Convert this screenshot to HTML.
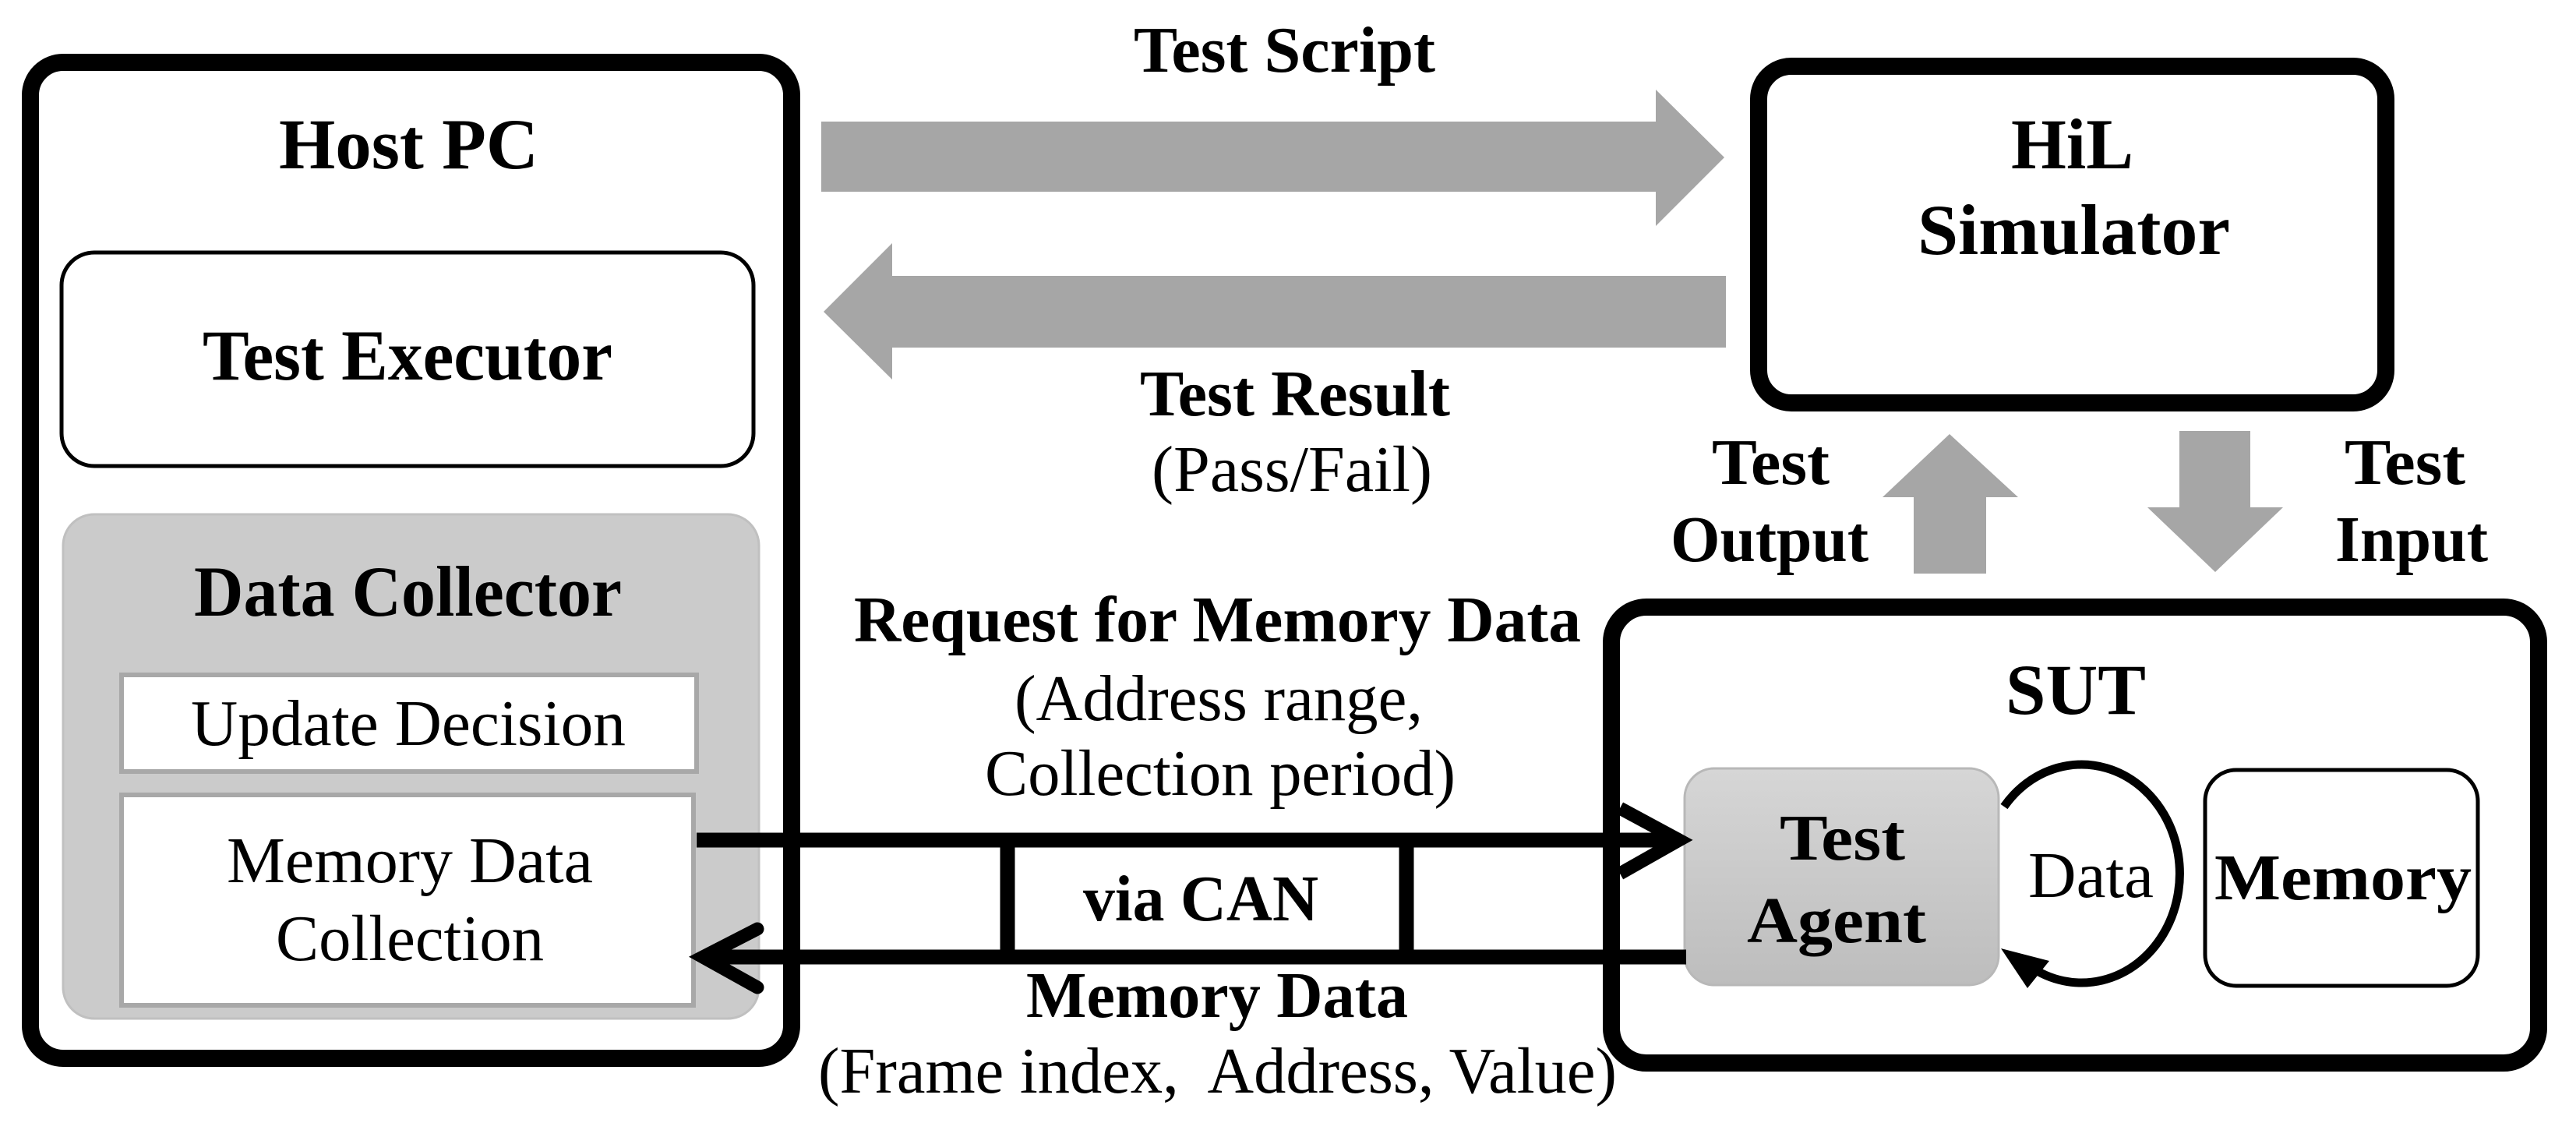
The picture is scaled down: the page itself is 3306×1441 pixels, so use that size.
<!DOCTYPE html>
<html><head><meta charset="utf-8"><style>html,body{margin:0;padding:0;background:#fff}svg{display:block}text{font-family:"Liberation Serif",serif;font-size:84px;fill:#000}.b{font-weight:bold}.t{font-size:92px}</style></head><body>
<svg width="3306" height="1441" viewBox="0 0 3306 1441" xmlns="http://www.w3.org/2000/svg">
<defs><linearGradient id="ga" x1="0" y1="0" x2="0" y2="1"><stop offset="0" stop-color="#d6d6d6"/><stop offset="1" stop-color="#bdbdbd"/></linearGradient></defs>
<rect x="39" y="80" width="977" height="1278" rx="42" fill="#fff" stroke="#000" stroke-width="22"/>
<text class="b t" x="358" y="216" textLength="333" lengthAdjust="spacingAndGlyphs">Host PC</text>
<rect x="79" y="324" width="888" height="274" rx="42" fill="#fff" stroke="#000" stroke-width="5"/>
<text class="b t" x="260" y="487" textLength="526" lengthAdjust="spacingAndGlyphs">Test Executor</text>
<rect x="81" y="660" width="893" height="647" rx="40" fill="#cbcbcb" stroke="#c0c0c0" stroke-width="3"/>
<text class="b t" x="249" y="790" textLength="549" lengthAdjust="spacingAndGlyphs">Data Collector</text>
<rect x="156" y="866" width="738" height="124" fill="#fff" stroke="#a8a8a8" stroke-width="6"/>
<text x="245" y="956" textLength="558" lengthAdjust="spacingAndGlyphs">Update Decision</text>
<rect x="156" y="1020" width="734" height="270" fill="#fff" stroke="#a8a8a8" stroke-width="6"/>
<text x="291" y="1132" textLength="470" lengthAdjust="spacingAndGlyphs">Memory Data</text>
<text x="354" y="1232" textLength="344" lengthAdjust="spacingAndGlyphs">Collection</text>
<polygon points="1054,156 2125,156 2125,115 2213,202 2125,290 2125,246 1054,246" fill="#a6a6a6"/>
<polygon points="2215,354 1145,354 1145,312 1057,400 1145,487 1145,446 2215,446" fill="#a6a6a6"/>
<text class="b" x="1455" y="92" textLength="387" lengthAdjust="spacingAndGlyphs">Test Script</text>
<text class="b" x="1463" y="533" textLength="398" lengthAdjust="spacingAndGlyphs">Test Result</text>
<text x="1478" y="630" textLength="360" lengthAdjust="spacingAndGlyphs">(Pass/Fail)</text>
<rect x="2257" y="85" width="805" height="432" rx="42" fill="#fff" stroke="#000" stroke-width="22"/>
<text class="b t" x="2581" y="216" textLength="157" lengthAdjust="spacingAndGlyphs">HiL</text>
<text class="b t" x="2461" y="326" textLength="401" lengthAdjust="spacingAndGlyphs">Simulator</text>
<polygon points="2502,557 2590,638 2549,638 2549,736 2456,736 2456,638 2416,638" fill="#a6a6a6"/>
<polygon points="2797,553 2888,553 2888,651 2930,651 2843,734 2756,651 2797,651" fill="#a6a6a6"/>
<text class="b" x="2197" y="621" textLength="151" lengthAdjust="spacingAndGlyphs">Test</text>
<text class="b" x="2144" y="720" textLength="254" lengthAdjust="spacingAndGlyphs">Output</text>
<text class="b" x="3009" y="621" textLength="155" lengthAdjust="spacingAndGlyphs">Test</text>
<text class="b" x="2997" y="720" textLength="196" lengthAdjust="spacingAndGlyphs">Input</text>
<rect x="2068" y="779" width="1190" height="585" rx="45" fill="#fff" stroke="#000" stroke-width="22"/>
<text class="b t" x="2574" y="916" textLength="180" lengthAdjust="spacingAndGlyphs">SUT</text>
<rect x="2162" y="986" width="403" height="278" rx="38" fill="url(#ga)" stroke="#b8b8b8" stroke-width="3"/>
<text class="b" x="2284" y="1103" textLength="161" lengthAdjust="spacingAndGlyphs">Test</text>
<text class="b" x="2242" y="1209" textLength="230" lengthAdjust="spacingAndGlyphs">Agent</text>
<rect x="2830" y="988" width="350" height="277" rx="40" fill="#fff" stroke="#000" stroke-width="5"/>
<text class="b" x="2842" y="1154" textLength="330" lengthAdjust="spacingAndGlyphs">Memory</text>
<path d="M2572,1035 A126,140 0 1 1 2605,1240" fill="none" stroke="#000" stroke-width="11"/>
<polygon points="2568,1217 2602,1268 2630,1233" fill="#000"/>
<text x="2603" y="1151" textLength="161" lengthAdjust="spacingAndGlyphs">Data</text>
<line x1="894" y1="1078" x2="2150" y2="1078" stroke="#000" stroke-width="19"/>
<polyline points="2079,1037 2155,1078 2079,1121" fill="none" stroke="#000" stroke-width="17"/>
<line x1="905" y1="1228" x2="2164" y2="1228" stroke="#000" stroke-width="19"/>
<polyline points="972,1192 902,1228 972,1267" fill="none" stroke="#000" stroke-width="17" stroke-linecap="round"/>
<line x1="1293" y1="1078" x2="1293" y2="1228" stroke="#000" stroke-width="19"/>
<line x1="1805" y1="1078" x2="1805" y2="1228" stroke="#000" stroke-width="19"/>
<text class="b" x="1390" y="1181" textLength="302" lengthAdjust="spacingAndGlyphs">via CAN</text>
<text class="b" x="1096" y="823" textLength="933" lengthAdjust="spacingAndGlyphs">Request for Memory Data</text>
<text x="1302" y="924" textLength="524" lengthAdjust="spacingAndGlyphs">(Address range,</text>
<text x="1264" y="1020" textLength="604" lengthAdjust="spacingAndGlyphs">Collection period)</text>
<text class="b" x="1317" y="1305" textLength="490" lengthAdjust="spacingAndGlyphs">Memory Data</text>
<text x="1050" y="1402" textLength="1025" lengthAdjust="spacingAndGlyphs" xml:space="preserve">(Frame index,  Address, Value)</text>
</svg>
</body></html>
